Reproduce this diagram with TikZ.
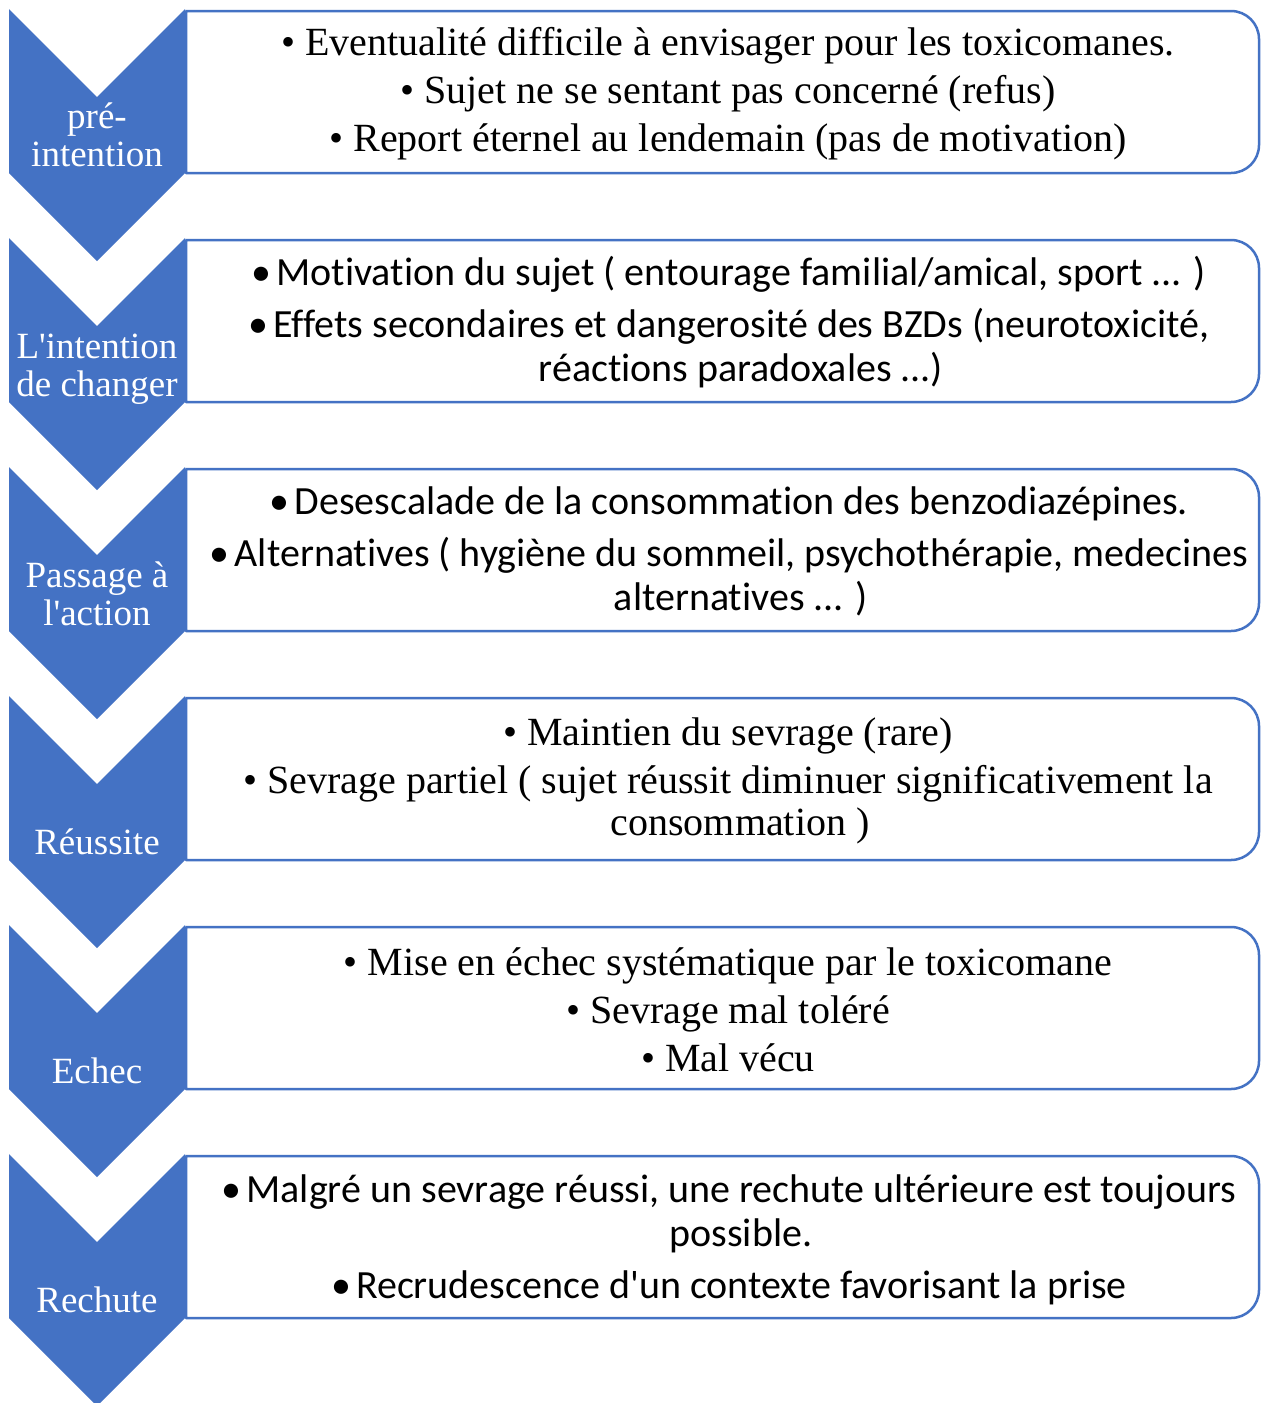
\documentclass[tikz,border=0pt]{standalone}
\usepackage{fontspec}
\setmainfont{Liberation Serif}
\newfontfamily\calib[Ligatures={NoCommon}]{Carlito}
\definecolor{stageblue}{HTML}{4472C4}
\newcommand{\bul}{\textbullet\ }
\newcommand{\sbul}{\textbullet\hspace{5pt}}
\newcommand{\hang}{\hspace*{24pt}}
\begin{document}
\begin{tikzpicture}[x=1pt,y=-1pt,
  chev/.style={fill=stageblue,draw=none},
  stagebox/.style={draw=stageblue,line width=2.5pt,fill=white,line join=round},
  lab/.style={text=white,font=\fontsize{37}{38}\selectfont,align=center,inner sep=0pt,anchor=base},
  itemserif/.style={font=\fontsize{40}{42}\selectfont,align=center,inner sep=0pt},
  itemsans/.style={font=\calib\fontsize{40}{44}\selectfont,align=center,inner sep=0pt}]
\useasboundingbox (0,0) rectangle (1261,1403);
\fill[white] (0,0) rectangle (1261,1403);
% boxes and chevrons
\foreach \i in {0,...,5}{
  \pgfmathsetmacro{\t}{9+229*\i}
  \draw[stagebox] (186,\t+2) -- (1231,\t+2) arc[start angle=90,end angle=0,radius=28pt]
     -- (1259,\t+136) arc[start angle=0,end angle=-90,radius=28pt] -- (186,\t+164) -- cycle;
  \fill[chev] (9,\t) -- (97,\t+88) -- (185,\t) -- (185,\t+164) -- (97,\t+252) -- (9,\t+164) -- cycle;
}
% stage labels
\node[lab] (l1) at (97,166) {pré-\\intention};
\node[lab] (l2) at (97,396) {L\textquotesingle intention\\de changer};
\node[lab] (l3) at (97,625) {Passage à\\l\textquotesingle action};
\node[lab] (l4) at (97,854) {Réussite};
\node[lab] (l5) at (97,1083) {Echec};
\node[lab] (l6) at (97,1312) {Rechute};
% texts
\node[itemserif] (t1) at (728,94) {\bul Eventualité difficile à envisager pour les toxicomanes.\\[6pt]
  \bul Sujet ne se sentant pas concerné (refus)\\[6pt]
  \bul Report éternel au lendemain (pas de motivation)};
\node[itemsans] (t2) at (729,322) {\sbul Motivation du sujet ( entourage familial/amical, sport ... )\\[8pt]
  \sbul Effets secondaires et dangerosité des BZDs (neurotoxicité,\\
  \hang réactions paradoxales ...)};
\node[itemsans] (t3) at (729,551) {\sbul Desescalade de la consommation des benzodiazépines.\\[8pt]
  \sbul Alternatives ( hygiène du sommeil, psychothérapie, medecines\\
  \hang alternatives ... )};
\node[itemserif] (t4) at (728,781) {\bul Maintien du sevrage (rare)\\[6pt]
  \bul Sevrage partiel ( sujet réussit diminuer significativement la\\
  \hang consommation )};
\node[itemserif] (t5) at (728,1010) {\bul Mise en échec systématique par le toxicomane\\[6pt]
  \bul Sevrage mal toléré\\[6pt]
  \bul Mal vécu};
\node[itemsans] (t6) at (729,1240) {\sbul Malgré un sevrage réussi, une rechute ultérieure est toujours\\
  \hang possible.\\[8pt]
  \sbul Recrudescence d\textquotesingle un contexte favorisant la prise};
\end{tikzpicture}
\end{document}
